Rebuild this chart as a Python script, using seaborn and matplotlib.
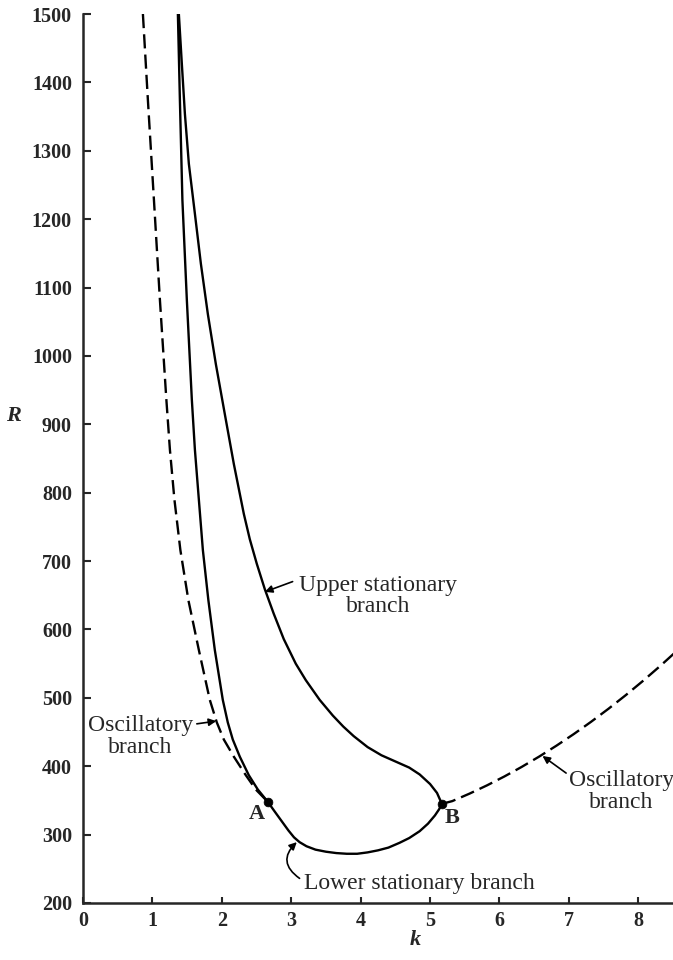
import numpy as np
import seaborn as sns
import matplotlib.pyplot as plt

# left oscillatory branch (dashed), from top of plot down to A
osc_left_k = [0.863, 0.935, 1.022, 1.108, 1.201, 1.252, 1.317, 1.403, 1.518, 1.669,
              1.827, 1.928, 2.029, 2.173, 2.345, 2.489, 2.662]
osc_left_R = [1500, 1374, 1228, 1082, 936, 863, 790, 716, 643, 570,
              497, 464, 439, 414, 387, 366, 348]

# lower stationary branch: from the top, down through A, round the minimum to B
lower_k = [1.367, 1.396, 1.432, 1.496, 1.568, 1.612, 1.669, 1.727, 1.806, 1.899,
           2.014, 2.086, 2.158, 2.259, 2.388, 2.518, 2.662, 2.76, 2.86, 2.96,
           3.04, 3.12, 3.22, 3.35, 3.50, 3.65, 3.80, 3.95, 4.10, 4.25,
           4.40, 4.56, 4.70, 4.85, 4.97, 5.07, 5.13, 5.17]
lower_R = [1500, 1374, 1228, 1082, 936, 863, 790, 716, 643, 570,
           497, 464, 439, 414, 387, 366, 348, 334, 320, 306,
           296, 289, 283, 278, 275, 273, 272, 272, 274, 277,
           281, 288, 295, 305, 316, 328, 337, 345]

# upper stationary branch: from B back up to the top
upper_k = [5.17, 5.10, 5.00, 4.85, 4.70, 4.50, 4.30, 4.10, 3.90, 3.75, 3.60,
           3.410, 3.209, 3.065, 2.892, 2.748, 2.619, 2.504, 2.403, 2.317, 2.173,
           2.043, 1.914, 1.799, 1.698, 1.612, 1.525, 1.468, 1.424, 1.381]
upper_R = [345, 361, 374, 388, 398, 407, 416, 428, 444, 458, 474,
           497, 526, 550, 586, 623, 659, 696, 732, 769, 842,
           915, 988, 1061, 1135, 1208, 1281, 1354, 1427, 1500]

# right oscillatory branch (dashed), from B outwards
osc_right_k = [5.17, 5.32, 5.57, 5.82, 6.07, 6.32, 6.57, 6.82, 7.07, 7.32,
               7.57, 7.82, 8.07, 8.32, 8.57]
osc_right_R = [345, 349, 360, 372, 385, 399, 414, 430, 447, 465,
               484, 504, 525, 547, 570]

point_k = [2.662, 5.17]
point_R = [348, 345]
point_names = ["A", "B"]

sns.set_style("ticks")
plt.rcParams["font.family"] = ["Liberation Serif", "DejaVu Serif"]

fig = plt.figure(figsize=(6.73, 9.6), dpi=100)
ax = fig.add_axes([83 / 673, 57 / 960, 590 / 673, 889 / 960])

dash = (0, (6, 2.6))
line_kw = dict(color="black", linewidth=1.7, sort=False, estimator=None, ax=ax)
sns.lineplot(x=osc_left_k, y=osc_left_R, linestyle=dash, **line_kw)
sns.lineplot(x=lower_k + upper_k[1:], y=lower_R + upper_R[1:], **line_kw)
sns.lineplot(x=osc_right_k, y=osc_right_R, linestyle=dash, **line_kw)
sns.scatterplot(x=point_k, y=point_R, color="black", s=40, edgecolor="black", zorder=5, ax=ax)

ax.text(2.50, 330, point_names[0], fontsize=16, fontweight="bold", ha="center", va="center")
ax.text(5.31, 325, point_names[1], fontsize=16, fontweight="bold", ha="center", va="center")

arrow = dict(arrowstyle="-|>", color="black", lw=1.2, mutation_scale=11, shrinkA=0, shrinkB=0)
ax.text(4.25, 649, "Upper stationary\nbranch", fontsize=17, ha="center", va="center",
        linespacing=1.05)
ax.annotate("", xy=(2.62, 655), xytext=(3.02, 670), arrowprops=arrow)

ax.text(0.83, 443, "Oscillatory\nbranch", fontsize=17, ha="center", va="center",
        linespacing=1.05)
ax.annotate("", xy=(1.92, 466), xytext=(1.64, 462), arrowprops=arrow)

ax.text(7.76, 363, "Oscillatory\nbranch", fontsize=17, ha="center", va="center",
        linespacing=1.05)
ax.annotate("", xy=(6.62, 415), xytext=(6.96, 390), arrowprops=arrow)

ax.text(3.18, 228, "Lower stationary branch", fontsize=17, ha="left", va="center")
ax.annotate("", xy=(3.08, 289), xytext=(3.12, 236),
            arrowprops=dict(arrow, connectionstyle="arc3,rad=-0.6"))

ax.set_xlim(0, 8.5)
ax.set_ylim(200, 1500)
ax.set_xticks(range(0, 9))
ax.set_yticks(range(200, 1501, 100))
ax.tick_params(axis="y", direction="in", length=6, width=1.5, pad=8, labelsize=14.5)
ax.tick_params(axis="x", direction="in", length=4, width=1.5, pad=6, labelsize=14.5)
for lab in ax.get_xticklabels() + ax.get_yticklabels():
    lab.set_fontweight("bold")

ax.set_xlabel("k", fontsize=16, fontstyle="italic", fontweight="bold")
ax.set_ylabel("R", fontsize=16, fontstyle="italic", fontweight="bold", rotation=0)
ax.xaxis.set_label_coords(0.563, -0.03)
ax.yaxis.set_label_coords(-0.118, 0.537)

sns.despine(ax=ax)
for side in ["left", "bottom"]:
    ax.spines[side].set_linewidth(1.8)

fig.savefig("out.png", dpi=100, facecolor="white")
